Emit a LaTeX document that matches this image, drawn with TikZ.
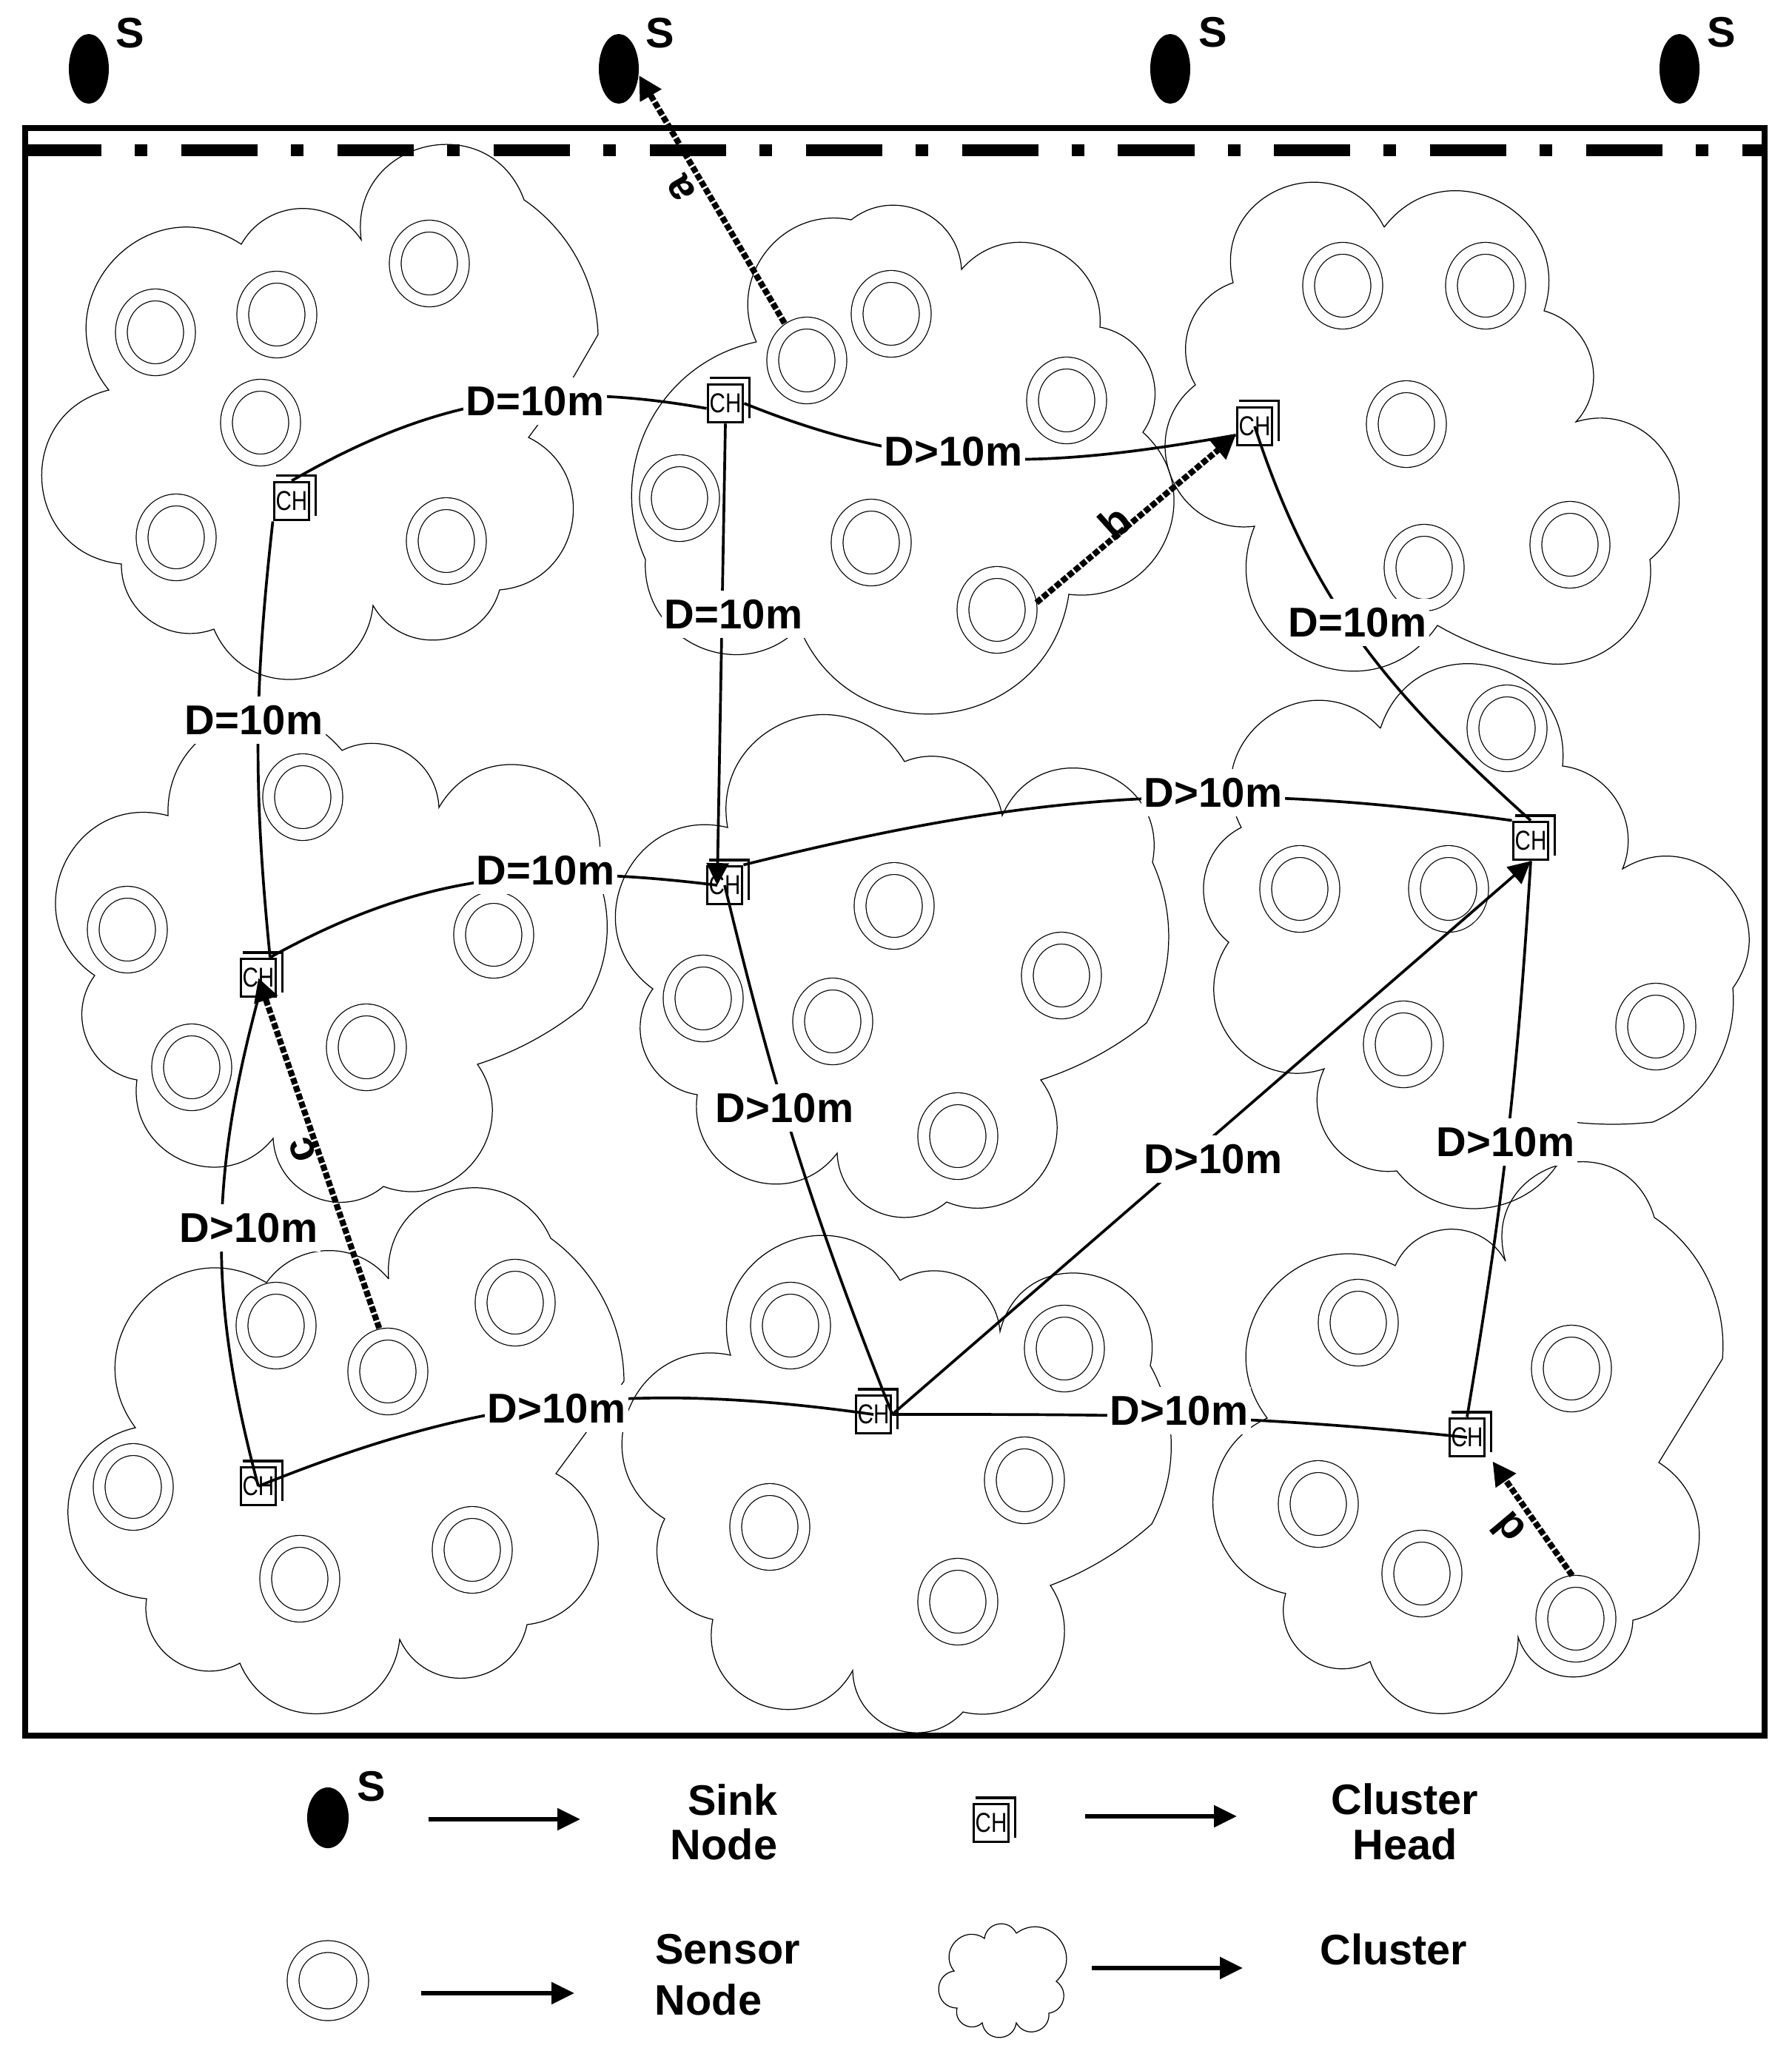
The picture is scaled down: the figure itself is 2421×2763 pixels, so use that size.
\documentclass[tikz,border=0pt]{standalone}
\usepackage{fontspec}
\setmainfont{Liberation Sans}
\newfontfamily\chfont[FakeStretch=0.8]{Liberation Sans}
\usetikzlibrary{arrows.meta,shapes.geometric}
\tikzset{
  cloud/.style={line width=.35pt},
  bl/.code={\pgfmathsetmacro\bendang{2*atan(1.056*sin(#1))}\pgfmathsetmacro\bendloose{.8514*(1+(1.056*sin(#1))^2)}\tikzset{bend left=\bendang,looseness=\bendloose}},
  sensor/.style={ellipse, draw, line width=.35pt, double, double distance=4.2pt, minimum width=.92cm, minimum height=1.01cm, inner sep=0pt},
  chbox/.style={draw, line width=1.1pt, fill=white, minimum width=.47cm, minimum height=.51cm, inner sep=0pt, font=\chfont\fontsize{10.5pt}{11pt}\selectfont},
  chback/.style={line width=1.1pt},
  sink/.style={ellipse, fill, minimum width=.54cm, minimum height=.94cm, inner sep=0pt},
  link/.style={line width=1.05pt},
  tiplink/.style={link, -{Triangle[length=8.5pt,width=8.5pt]}},
  dasharrow/.style={line width=2.3pt, dash pattern=on 2.4pt off .8pt, -{Triangle[length=9pt,width=9pt]}, shorten <=2.5pt},
  legarrow/.style={line width=1.7pt, -{Triangle[length=8.8pt,width=8.2pt]}},
  dist/.style={font=\fontsize{16pt}{18pt}\selectfont\bfseries, fill=white, inner xsep=1pt, inner ysep=3.5pt},
  word/.style={font=\fontsize{16.4pt}{18pt}\selectfont\bfseries, inner sep=0pt},
}
\begin{document}
\begin{tikzpicture}[x=.01cm, y=-.01cm]
\useasboundingbox (0,0) rectangle (2421,2763);
\draw[line width=2.5pt] (34,173) rectangle (2384,2345);
\draw[line width=4.8pt, dash pattern=on 1.03cm off .45cm on .17cm off .458cm] (34,203) -- (2384,203);
\node[sink] (snk0) at (120,93){};
\node[sink] (snk1) at (836,93){};
\node[sink] (snk2) at (1581,93){};
\node[sink] (snk3) at (2269,93){};
\node[word] (s0) at (176,45){S};
\node[word] (s1) at (892,45){S};
\node[word] (s2) at (1639,44){S};
\node[word] (s3) at (2326,44){S};
% clusters
\draw[cloud] (708,270) to[bl=13] (808,452) to[bl=0] (775,509) to[bl=0] (714,591) to[bl=46] (675,797) to[bl=39] (504,818) to[bl=47] (289,850) to[bl=30] (164,762) to[bl=53] (147,527) to[bl=54] (326,330) to[bl=32] (488,324) to[bl=58] (708,270);
\draw[cloud] (1022,462) to[bl=36] (1150,297) to[bl=35] (1299,364) to[bl=43] (1486,442) to[bl=31] (1544,584) to[bl=44] (1444,803) to[bl=46] (1080,848) to[bl=41] (872,756) to[bl=27] (1022,462);
\draw[cloud] (1870,307) to[bl=53] (2086,420) to[bl=32] (2129,570) to[bl=51] (2229,756) to[bl=28] (2086,896) to[bl=5] (1942,845) to[bl=58] (1695,711) to[bl=46] (1615,520) to[bl=27] (1666,382) to[bl=58] (1870,307);
\draw[cloud] (462,1014) to[bl=31] (593,1091) to[bl=56] (806,1180) to[bl=14] (786,1362) to[bl=5] (645,1438) to[bl=44] (518,1603) to[bl=36] (369,1538) to[bl=46] (185,1459) to[bl=32] (128,1318) to[bl=53] (227,1102) to[bl=43] (462,1014);
\draw[cloud] (1222,1029) to[bl=27] (1354,1102) to[bl=58] (1557,1165) to[bl=13] (1549,1382) to[bl=5] (1406,1459) to[bl=46] (1279,1624) to[bl=36] (1131,1558) to[bl=47] (942,1479) to[bl=32] (882,1336) to[bl=51] (983,1118) to[bl=52] (1222,1029);
\draw[cloud] (1865,984) to[bl=58] (2111,1035) to[bl=28] (2192,1174) to[bl=51] (2341,1335) to[bl=18] (2233,1516) to[bl=3] (2125,1516) to[bl=39] (1887,1582) to[bl=34] (1789,1444) to[bl=43] (1660,1273) to[bl=31] (1677,1118) to[bl=56] (1865,984);
\draw[cloud] (525,1728) to[bl=53] (744,1673) to[bl=13] (843,1866) to[bl=0] (751,1991) to[bl=44] (712,2195) to[bl=43] (540,2215) to[bl=47] (324,2247) to[bl=36] (198,2160) to[bl=54] (183,1929) to[bl=51] (360,1733) to[bl=28] (525,1728);
\draw[cloud] (1216,1730) to[bl=32] (1351,1799) to[bl=68] (1554,1845) to[bl=14] (1556,2059) to[bl=5] (1419,2142) to[bl=40] (1301,2313) to[bl=40] (1152,2257) to[bl=54] (963,2188) to[bl=28] (898,2052) to[bl=53] (987,1831) to[bl=56] (1216,1730);
\draw[cloud] (2034,1704) to[bl=71] (2235,1645) to[bl=15] (2327,1836) to[bl=0] (2241,1976) to[bl=39] (2206,2189) to[bl=52] (2051,2212) to[bl=54] (1851,2245) to[bl=39] (1737,2153) to[bl=43] (1712,1916) to[bl=49] (1885,1710) to[bl=36] (2034,1704);
% sensor nodes
\node[sensor] (sn0) at (210,449){};
\node[sensor] (sn1) at (374,425){};
\node[sensor] (sn2) at (580,356){};
\node[sensor] (sn3) at (352,571){};
\node[sensor] (sn4) at (238,726){};
\node[sensor] (sn5) at (603,731){};
\node[sensor] (sn6) at (1090,487){};
\node[sensor] (sn7) at (1204,424){};
\node[sensor] (sn8) at (1441,541){};
\node[sensor] (sn9) at (918,673){};
\node[sensor] (sn10) at (1177,733){};
\node[sensor] (sn11) at (1347,824){};
\node[sensor] (sn12) at (1814,386){};
\node[sensor] (sn13) at (2007,386){};
\node[sensor] (sn14) at (1900,573){};
\node[sensor] (sn15) at (2121,736){};
\node[sensor] (sn16) at (1924,767){};
\node[sensor] (sn17) at (409,1077){};
\node[sensor] (sn18) at (172,1256){};
\node[sensor] (sn19) at (667,1263){};
\node[sensor] (sn20) at (259,1442){};
\node[sensor] (sn21) at (495,1415){};
\node[sensor] (sn22) at (1208,1224){};
\node[sensor] (sn23) at (1434,1318){};
\node[sensor] (sn24) at (950,1349){};
\node[sensor] (sn25) at (1125,1380){};
\node[sensor] (sn26) at (1294,1535){};
\node[sensor] (sn27) at (2036,984){};
\node[sensor] (sn28) at (1756,1201){};
\node[sensor] (sn29) at (1957,1201){};
\node[sensor] (sn30) at (2237,1387){};
\node[sensor] (sn31) at (1896,1411){};
\node[sensor] (sn32) at (373,1791){};
\node[sensor] (sn33) at (696,1760){};
\node[sensor] (sn34) at (524,1853){};
\node[sensor] (sn35) at (180,2009){};
\node[sensor] (sn36) at (638,2094){};
\node[sensor] (sn37) at (405,2133){};
\node[sensor] (sn38) at (1068,1791){};
\node[sensor] (sn39) at (1438,1822){};
\node[sensor] (sn40) at (1384,2000){};
\node[sensor] (sn41) at (1040,2063){};
\node[sensor] (sn42) at (1294,2164){};
\node[sensor] (sn43) at (1835,1787){};
\node[sensor] (sn44) at (2123,1849){};
\node[sensor] (sn45) at (1781,2032){};
\node[sensor] (sn46) at (1921,2126){};
\node[sensor] (sn47) at (2129,2187){};
% cluster heads
\node[chbox] (ch0) at (394,677){CH};
\node[chbox] (ch1) at (980,545){CH};
\node[chbox] (ch2) at (1695,576){CH};
\node[chbox] (ch3) at (349,1321){CH};
\node[chbox] (ch4) at (979,1196){CH};
\node[chbox] (ch5) at (2068,1136){CH};
\node[chbox] (ch6) at (349,2008){CH};
\node[chbox] (ch7) at (1180,1911){CH};
\node[chbox] (ch8) at (1982,1942){CH};
\node[chbox] (ch9) at (1339,2463){CH};
\foreach \n in {ch0,ch1,ch2,ch3,ch4,ch5,ch6,ch7,ch8,ch9}
  \draw[chback] ([shift={(4,-7)}]\n.north west) -- ([shift={(7,-7)}]\n.north east) -- ([shift={(7,-7)}]\n.south east);
% distances
\draw[link] (ch0.north) to[bend left=20] (ch1.195);
\draw[link] (ch1.east) to[out=-22,in=190] (ch2.205);
\draw[tiplink] (ch1.south) -- ([shift={(-10,0)}]ch4.center);
\draw[link] (ch0.south west) to[bend right=6] (ch3.60);
\draw[link] (ch3.60) to[out=29,in=173] ([shift={(-10,0)}]ch4.center);
\draw[link] (ch4.north east) to[out=14,in=172] (ch5.north west);
\draw[link] (ch2.center) to[out=-72,in=138] (ch5.north);
\draw[link] (ch4.center) to[bend right=4] (ch7.east);
\draw[tiplink] (ch7.east) -- (ch5.south);
\draw[link] (ch8.north) to[bend right=3] (ch5.south);
\draw[link] (ch7.east) to[out=0,in=174] (ch8.center);
\draw[link] (ch6.center) to[out=22,in=172] (ch7.center);
\draw[link] (ch6.center) to[bend left=15] (ch3.south);
% packets
\draw[dasharrow] (sn6.121) -- (snk1.-18);
\draw[dasharrow] (sn11.5) -- (ch2.205);
\draw[dasharrow] (sn34.100) -- (ch3.center);
\draw[dasharrow] (sn47.90) -- ([shift={(9,5)}]ch8.south east);
\node[dist] (d0) at (723,542){D=10m};
\node[dist] (d1) at (991,830){D=10m};
\node[dist] (d2) at (1834,841){D=10m};
\node[dist] (d3) at (343,973){D=10m};
\node[dist] (d4) at (737,1176){D=10m};
\node[dist] (d5) at (1288,610){D>10m};
\node[dist] (d6) at (1639,1071){D>10m};
\node[dist] (d7) at (1060,1497){D>10m};
\node[dist] (d8) at (1639,1566){D>10m};
\node[dist] (d9) at (2034,1543){D>10m};
\node[dist] (d10) at (336,1659){D>10m};
\node[dist] (d11) at (752,1903){D>10m};
\node[dist] (d12) at (1593,1906){D>10m};
\node[word, rotate=120] (pa) at (920,254){a};
\node[word, rotate=42] (pb) at (1506,705){b};
\node[word, rotate=109] (pc) at (409,1553){c};
\node[word, rotate=130] (pd) at (2037,2065){d};
% legend
\node[sink, minimum width=.56cm, minimum height=.82cm] (snk4) at (443,2456){};
\node[word] (s4) at (502,2414){S};
\coordinate (ar0a) at (579,2458);
\coordinate (ar0b) at (784,2458);
\draw[legarrow] (ar0a) -- (ar0b);
\node[word] (w0) at (990,2432){Sink};
\node[word] (w1) at (978,2492){Node};
\coordinate (ar1a) at (1466,2454);
\coordinate (ar1b) at (1671,2454);
\draw[legarrow] (ar1a) -- (ar1b);
\node[word] (w2) at (1898,2431){Cluster};
\node[word] (w3) at (1898,2492){Head};
\node[sensor, minimum width=.94cm, minimum height=.92cm] (sn48) at (443,2676){};
\coordinate (ar2a) at (569,2693);
\coordinate (ar2b) at (776,2693);
\draw[legarrow] (ar2a) -- (ar2b);
\node[word] (w4) at (983,2634){Sensor};
\node[word] (w5) at (957,2702){Node};
\draw[cloud] (1373,2612) to[bl=63] (1427,2677) to[bl=40] (1417,2720) to[bl=50] (1373,2733) to[bl=55] (1327,2733) to[bl=45] (1293,2713) to[bl=60] (1289,2663) to[bl=55] (1330,2619) to[bl=45] (1373,2612);
\coordinate (ar3a) at (1475,2659);
\coordinate (ar3b) at (1679,2659);
\draw[legarrow] (ar3a) -- (ar3b);
\node[word] (w6) at (1883,2634){Cluster};
\end{tikzpicture}
\end{document}
